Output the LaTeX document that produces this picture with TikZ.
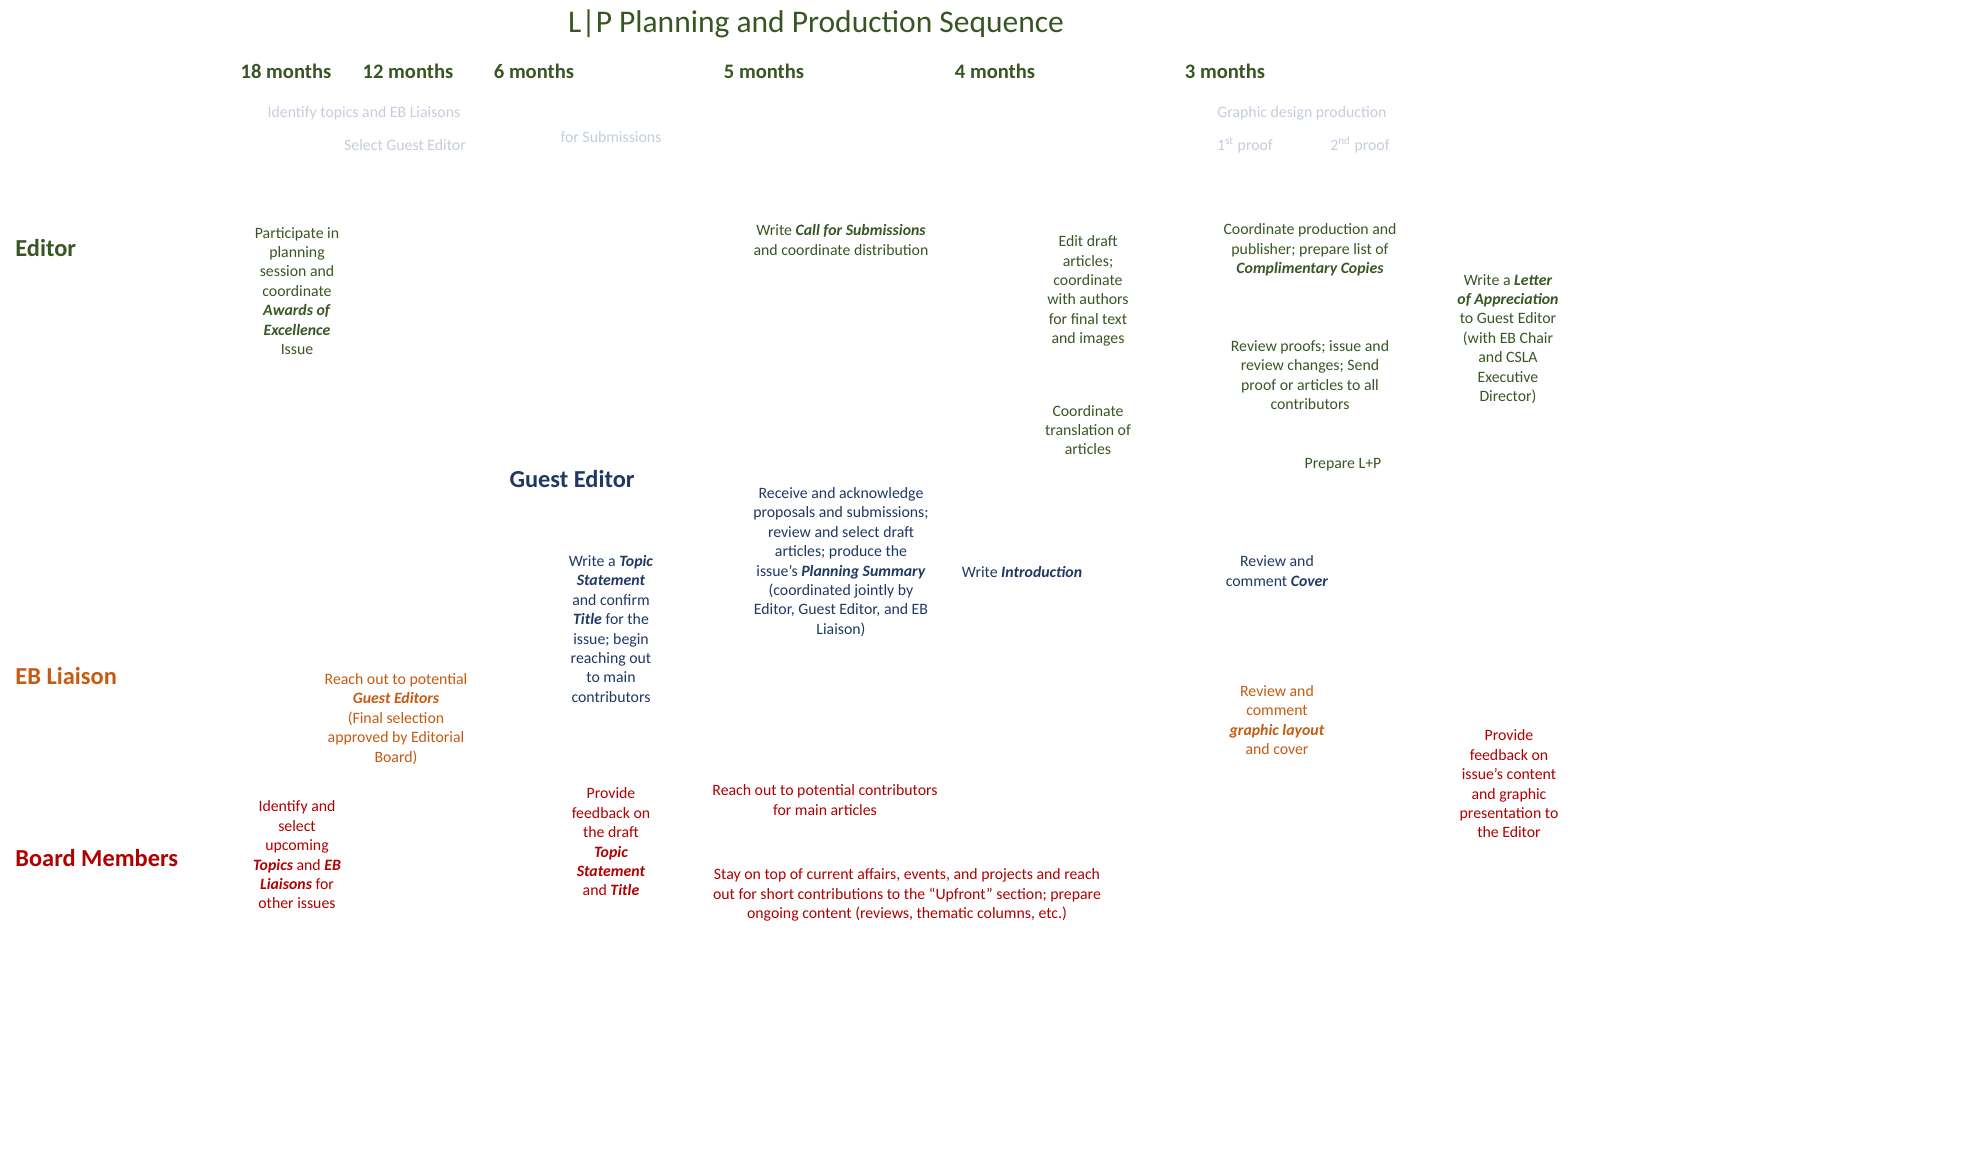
\documentclass[tikz,border=0pt]{standalone}
\usepackage{fontspec}
\setmainfont{Carlito}
\definecolor{edgreen}{RGB}{56,86,35}
\definecolor{geblue}{RGB}{31,56,100}
\definecolor{eborange}{RGB}{197,90,17}
\definecolor{bmred}{RGB}{176,0,0}
\definecolor{pale}{RGB}{196,205,220}
\tikzset{
  body/.style={inner sep=0pt, align=center, font=\fontsize{7.9}{9.7}\selectfont},
  rolelabel/.style={inner sep=0pt, anchor=west, font=\fontsize{12.2}{14}\selectfont\bfseries},
  monthlabel/.style={inner sep=0pt, text=edgreen, font=\fontsize{10.3}{12}\selectfont\bfseries},
  paletext/.style={body, text=pale},
  ed/.style={body, text=edgreen},
  ge/.style={body, text=geblue},
  eb/.style={body, text=eborange},
  bm/.style={body, text=bmred},
}
\newcommand{\bi}[1]{\textbf{\textit{#1}}}
\begin{document}
\begin{tikzpicture}[x=0.5pt, y=-0.5pt]
\useasboundingbox (0,0) rectangle (1967,1159);
% title
\node[inner sep=0pt, text=edgreen, font=\fontsize{15.75}{18}\selectfont] (title) at (816,24) {L|P Planning and Production Sequence};
% months
\node[monthlabel] (m18) at (286,71) {18 months};
\node[monthlabel] (m12) at (408,71) {12 months};
\node[monthlabel] (m6) at (534,71) {6 months};
\node[monthlabel] (m5) at (764,71) {5 months};
\node[monthlabel] (m4) at (995,71) {4 months};
\node[monthlabel] (m3) at (1225,71) {3 months};
% pale milestone texts
\node[paletext] (p1) at (364,113) {Identify topics and EB Liaisons};
\node[paletext] (p2) at (405,145) {Select Guest Editor};
\node[paletext] (p3) at (611,137) {for Submissions};
\node[paletext] (p4) at (1302,113) {Graphic design production};
\node[paletext] (p5) at (1245,145) {1\textsuperscript{st} proof};
\node[paletext] (p6) at (1360,145) {2\textsuperscript{nd} proof};
% role labels
\node[rolelabel, text=edgreen] (editor) at (15,248) {Editor};
\node[inner sep=0pt, text=geblue, font=\fontsize{12.2}{14}\selectfont\bfseries] (guest) at (572,479) {Guest Editor};
\node[rolelabel, text=eborange] (liaison) at (15,676) {EB Liaison};
\node[rolelabel, text=bmred] (board) at (15,858) {Board Members};
% Editor tasks
\node[ed] (e1) at (297,291) {Participate in\\planning\\session and\\coordinate\\\bi{Awards of}\\\bi{Excellence}\\Issue};
\node[ed] (e2) at (841,240) {Write \bi{Call for Submissions}\\and coordinate distribution};
\node[ed] (e3) at (1088,291) {Edit draft\\articles;\\coordinate\\with authors\\for final text\\and images};
\node[ed] (e4) at (1088,430) {Coordinate\\translation of\\articles};
\node[ed] (e5) at (1310,250) {Coordinate production and\\publisher; prepare list of\\\bi{Complimentary Copies}};
\node[ed] (e6) at (1310,375) {Review proofs; issue and\\review changes; Send\\proof or articles to all\\contributors};
\node[ed] (e7) at (1343,465) {Prepare L+P};
\node[ed] (e8) at (1508,339) {Write a \bi{Letter}\\\bi{of Appreciation}\\to Guest Editor\\(with EB Chair\\and CSLA\\Executive\\Director)};
% Guest Editor tasks
\node[ge] (g1) at (611,629) {Write a \bi{Topic}\\\bi{Statement}\\and confirm\\\bi{Title} for the\\issue; begin\\reaching out\\to main\\contributors};
\node[ge] (g2) at (841,562) {Receive and acknowledge\\proposals and submissions;\\review and select draft\\articles; produce the\\issue’s \bi{Planning Summary}\\(coordinated jointly by\\Editor, Guest Editor, and EB\\Liaison)};
\node[ge] (g3) at (1022,572) {Write \bi{Introduction}};
\node[ge] (g4) at (1277,571) {Review and\\comment \bi{Cover}};
% EB Liaison tasks
\node[eb] (l1) at (396,719) {Reach out to potential\\\bi{Guest Editors}\\(Final selection\\approved by Editorial\\Board)};
\node[eb] (l2) at (1277,720) {Review and\\comment\\\bi{graphic layout}\\and cover};
% Board Members tasks
\node[bm] (b1) at (297,855) {Identify and\\select\\upcoming\\\bi{Topics} and \bi{EB}\\\bi{Liaisons} for\\other issues};
\node[bm] (b2) at (611,842) {Provide\\feedback on\\the draft\\\bi{Topic}\\\bi{Statement}\\and \bi{Title}};
\node[bm] (b3) at (825,800) {Reach out to potential contributors\\for main articles};
\node[bm] (b4) at (907,895) {Stay on top of current affairs, events, and projects and reach\\out for short contributions to the “Upfront” section; prepare\\ongoing content (reviews, thematic columns, etc.)};
\node[bm] (b5) at (1509,784) {Provide\\feedback on\\issue’s content\\and graphic\\presentation to\\the Editor};
\end{tikzpicture}
\end{document}
